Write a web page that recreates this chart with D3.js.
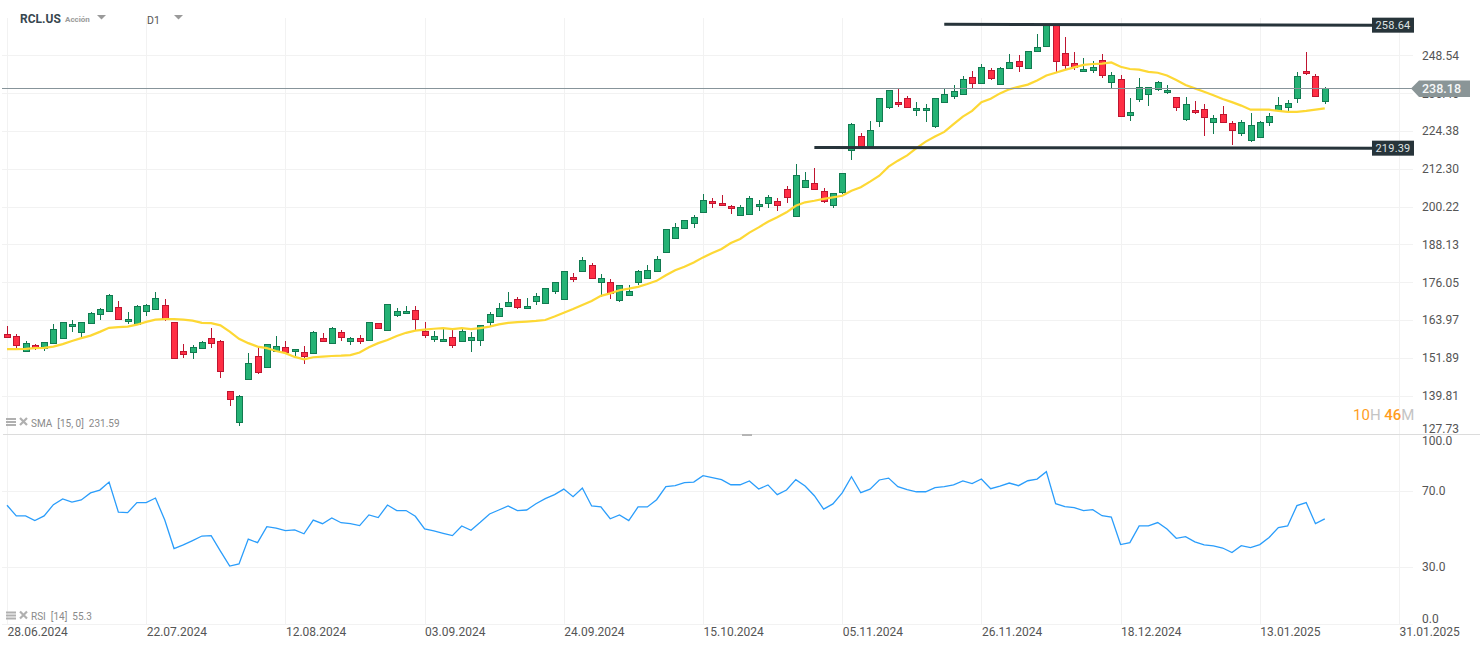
<!DOCTYPE html>
<html>
<head>
<meta charset="utf-8">
<title>RCL.US</title>
<script src="https://cdn.jsdelivr.net/npm/d3@7"></script>
<style>
html, body { margin: 0; padding: 0; background: #fff; }
svg { display: block; font-family: Roboto, sans-serif; }
.tick line { display: none; }
.domain { display: none; }
</style>
</head>
<body>
<div id="chart"></div>
<script>
var opens = [159.5,158.9,154.2,155.9,155.0,156.6,158.1,161.9,160.1,163.0,165.8,166.8,168.1,163.5,162.6,166.8,167.4,168.7,163.3,154.0,153.7,155.0,158.2,157.2,141.2,131.2,145.1,152.4,148.9,153.9,155.3,153.9,153.7,153.4,158.2,156.6,160.1,157.4,158.2,157.5,163.0,160.7,165.4,166.1,167.1,160.4,158.0,157.2,158.5,157.2,157.5,157.5,163.3,165.2,168.4,170.6,167.7,170.0,169.3,173.2,170.6,177.6,179.6,181.5,176.1,176.1,170.3,171.9,176.1,177.3,179.6,185.6,190.1,193.3,194.9,198.4,201.9,201.3,200.3,197.5,197.8,200.3,201.3,201.9,205.8,197.1,206.4,207.7,205.1,200.6,204.8,218.2,222.7,219.5,227.5,232.0,233.6,234.8,231.0,231.0,225.9,233.6,235.5,236.1,241.5,239.6,243.8,239.3,244.4,246.7,244.4,249.9,251.5,258.6,249.2,246.0,243.5,243.8,247.0,239.9,240.9,229.4,234.5,236.1,237.7,236.8,235.2,228.1,231.0,231.3,227.2,229.7,226.9,223.6,221.4,222.4,227.2,231.0,232.0,234.8,243.5,241.9,233.9];
var highs = [162.1,159.5,157.3,156.3,156.9,162.6,163.3,164.0,163.3,166.6,167.8,172.3,170.1,166.6,168.8,169.1,173.0,170.7,163.3,156.3,155.9,157.2,161.4,157.6,141.2,140.0,153.4,155.3,156.2,158.9,157.3,154.6,155.7,160.4,159.9,161.8,160.8,158.5,159.2,163.3,163.0,169.0,167.8,168.5,168.5,163.4,160.4,161.1,160.8,161.0,160.1,162.3,166.5,169.3,173.0,171.3,170.9,172.6,174.1,176.1,179.6,178.9,184.0,182.1,178.6,177.0,175.1,175.1,179.9,181.5,184.4,193.0,194.9,195.9,197.5,204.3,202.9,203.8,200.6,200.6,203.5,202.2,203.8,202.9,206.7,213.8,211.3,212.6,206.1,204.5,210.9,226.9,223.7,227.5,234.8,237.4,237.7,235.5,233.6,232.9,234.8,237.9,239.0,241.9,243.5,245.7,244.4,244.7,248.9,248.6,249.9,255.4,258.6,258.6,254.4,249.5,247.6,246.8,249.0,243.1,242.2,234.8,241.2,238.4,240.3,239.0,235.2,235.2,233.9,232.9,229.4,232.3,227.5,227.8,230.0,227.5,230.0,235.2,234.2,243.1,249.5,242.5,238.3];
var lows = [158.7,155.1,154.2,154.4,154.1,156.6,158.1,160.2,158.2,163.0,164.0,166.8,164.2,162.7,162.6,165.3,167.4,163.7,151.8,151.9,151.5,155.0,155.1,145.5,136.5,130.1,145.1,146.8,148.9,153.9,153.7,152.3,149.9,153.4,157.4,156.6,157.3,156.0,156.3,157.5,161.2,160.7,165.0,166.1,160.7,158.2,157.1,157.2,155.2,157.2,153.9,155.7,162.1,165.2,168.4,167.6,167.7,168.9,169.3,172.4,170.6,176.1,179.6,177.3,171.3,170.8,169.9,171.9,175.1,177.3,179.6,185.6,190.1,193.3,193.4,198.4,199.8,200.6,198.0,197.5,197.8,198.9,199.8,198.9,201.5,197.1,206.4,205.8,201.5,199.9,204.3,215.2,219.5,219.5,225.6,231.3,232.2,231.6,229.3,227.4,225.3,233.6,234.5,236.1,238.1,239.6,240.8,239.3,244.4,243.3,244.4,249.9,251.5,243.2,244.2,243.9,243.5,242.9,241.3,238.0,229.1,227.7,233.8,232.5,237.1,236.3,230.9,227.5,229.9,222.9,223.5,227.2,220.0,222.9,221.0,222.4,226.1,231.0,230.9,233.2,242.4,235.5,233.1];
var closes = [158.7,156.1,156.6,155.1,156.9,161.0,163.3,162.6,163.3,166.2,167.4,171.9,164.2,164.2,168.4,168.7,170.9,164.5,151.8,152.9,155.3,156.9,156.6,147.6,138.7,139.6,150.2,147.3,156.2,155.6,153.7,154.6,152.3,160.1,157.4,161.4,158.5,158.2,157.4,163.3,161.5,169.0,166.8,166.8,164.1,159.0,158.8,157.8,156.1,160.4,158.5,162.3,165.8,167.7,169.7,167.9,168.4,171.6,174.1,176.1,179.6,177.0,183.1,177.3,177.3,172.5,175.1,173.2,179.6,179.9,183.4,193.0,193.6,195.9,196.8,202.2,201.3,200.6,199.7,200.0,202.9,201.0,203.2,200.6,203.2,210.2,208.6,205.8,201.9,204.5,210.9,226.5,219.5,224.6,234.8,237.4,232.9,232.0,231.6,231.6,234.8,236.1,237.1,240.9,239.6,244.7,241.2,244.4,246.3,245.1,249.9,251.1,258.6,246.7,245.4,244.7,244.1,244.7,242.2,242.2,229.1,230.4,238.3,238.4,239.9,237.4,232.0,232.9,230.4,228.8,228.4,227.2,224.6,227.2,226.2,227.2,229.1,232.6,233.2,241.9,242.8,235.5,238.2];
var smaValues = [154.7,154.7,154.8,155.0,155.1,155.5,156.3,157.3,158.2,159.0,160.2,161.5,161.7,161.9,162.5,163.4,164.1,164.3,164.3,164.1,163.8,163.1,163.0,162.3,160.3,158.0,156.6,155.5,155.0,154.1,153.4,152.2,151.4,152.1,152.3,152.5,152.6,152.8,153.6,155.3,156.6,157.6,158.9,159.9,160.6,160.9,161.2,161.4,161.1,161.4,161.1,161.4,161.9,162.6,163.1,163.3,163.5,163.7,164.0,165.1,166.3,167.5,168.8,170.1,171.7,172.5,173.5,174.0,174.6,175.5,176.5,178.3,179.9,181.0,182.4,184.0,185.4,186.7,188.6,189.9,191.9,193.6,195.4,196.8,198.4,200.5,201.6,202.1,202.7,203.2,203.7,205.3,206.4,208.2,210.1,213.0,214.9,216.6,218.9,221.0,222.6,224.1,226.6,229.0,230.8,233.6,234.7,236.4,237.7,238.5,239.2,240.5,242.1,243.0,243.9,244.7,245.5,245.8,245.9,246.3,244.9,244.2,244.0,243.3,243.0,242.1,240.7,239.1,238.0,236.9,235.8,234.6,233.6,232.5,231.2,231.2,231.2,230.8,230.5,230.5,230.8,231.2,231.6];
var rsiValues = [62.5,56.9,56.9,54.4,56.9,62.8,65.8,64.2,65.3,69.0,70.5,74.7,58.9,58.6,63.9,63.9,66.3,54.7,39.7,41.6,43.9,46.3,46.5,38.4,30.5,31.6,44.7,42.8,51.2,50.5,49.1,49.5,47.5,54.7,52.8,55.8,53.3,52.8,51.8,57.4,56.0,62.6,59.7,59.7,56.7,50.0,49.0,47.7,46.5,51.6,49.3,53.5,57.9,60.0,62.1,59.7,60.0,63.3,66.0,68.1,71.0,67.0,71.6,62.1,61.6,55.4,57.4,54.4,61.6,61.6,65.4,72.3,72.8,74.4,74.7,78.1,77.0,76.0,73.3,73.3,75.3,71.0,73.2,68.1,70.5,76.0,72.6,67.5,60.5,63.2,69.0,77.5,69.1,71.0,75.8,76.8,72.3,70.7,69.6,69.6,71.8,72.3,73.2,75.3,73.9,76.3,71.2,72.6,74.2,72.8,75.4,76.3,80.2,63.3,61.8,61.2,59.7,60.2,57.0,56.3,41.8,42.8,51.6,51.6,53.4,50.0,45.1,46.0,43.2,41.6,41.1,40.0,37.6,41.2,40.2,41.8,45.5,50.7,51.6,62.3,63.9,52.8,55.3];

var priceTicks = [248.54,236.46,224.38,212.30,200.22,188.13,176.05,163.97,151.89,139.81,127.73];
var rsiTicks = [100,70,30,0];
var dateTicks = ["28.06.2024","22.07.2024","12.08.2024","03.09.2024","24.09.2024","15.10.2024","05.11.2024","26.11.2024","18.12.2024","13.01.2025","31.01.2025"];
var barsPerDateTick = 15;

var lastPrice = 238.18;
var levelLabels = ["258.64","219.39"];
var levelFromBar = [101,87];
var levelFrom = [258.5,219.1];
var levelTo = [258.2,218.9];

var width = 1482, height = 649;
var gridRight = 1413, axisX = 1422;
var green = "#25b275", greenDark = "#117a50", red = "#ff2e44", redDark = "#bf1530";

var svg = d3.select("#chart").append("svg")
	.attr("width", width)
	.attr("height", height);

var x = d3.scaleLinear().domain([0, 150]).range([7, 1399]);
var y = d3.scaleLinear().domain([248.54, 127.73]).range([55.4, 433.5]);
var yRsi = d3.scaleLinear().domain([100, 0]).range([434, 624]);

var px = function(v) { return Math.round(v) + 0.5; };

// grid
var grid = svg.append("g").attr("stroke", "#f2f2f2").attr("stroke-width", 1);
var dateBars = dateTicks.map(function(d, i) { return i * barsPerDateTick; });

grid.selectAll(".vgrid").data(dateBars).enter().append("line")
	.attr("class", "vgrid")
	.attr("x1", function(d) { return px(x(d)); })
	.attr("x2", function(d) { return px(x(d)); })
	.attr("y1", 18)
	.attr("y2", 624);

grid.selectAll(".hgrid").data(priceTicks.slice(0, -1)).enter().append("line")
	.attr("class", "hgrid")
	.attr("x1", 2)
	.attr("x2", gridRight)
	.attr("y1", function(d) { return px(y(d)); })
	.attr("y2", function(d) { return px(y(d)); });

grid.selectAll(".rgrid").data(rsiTicks.slice(1)).enter().append("line")
	.attr("class", "rgrid")
	.attr("x1", 2)
	.attr("x2", gridRight)
	.attr("y1", function(d) { return px(yRsi(d)); })
	.attr("y2", function(d) { return px(yRsi(d)); });

// pane separator
svg.append("line")
	.attr("x1", 3).attr("x2", 1480)
	.attr("y1", 434.5).attr("y2", 434.5)
	.attr("stroke", "#dcdcdc");
svg.append("rect")
	.attr("x", 742).attr("y", 434)
	.attr("width", 10).attr("height", 2)
	.attr("fill", "#b5b5b5");

// candles
var candles = svg.append("g").selectAll(".candle").data(opens).enter().append("g")
	.attr("class", "candle")
	.attr("shape-rendering", "crispEdges");

var isUp = function(i) { return closes[i] >= opens[i]; };

candles.append("line")
	.attr("x1", function(d, i) { return px(x(i)); })
	.attr("x2", function(d, i) { return px(x(i)); })
	.attr("y1", function(d, i) { return y(highs[i]); })
	.attr("y2", function(d, i) { return y(lows[i]); })
	.attr("stroke", function(d, i) { return isUp(i) ? greenDark : redDark; });

candles.append("rect")
	.attr("x", function(d, i) { return px(x(i)) - 3; })
	.attr("width", 6)
	.attr("y", function(d, i) { return px(y(Math.max(opens[i], closes[i]))); })
	.attr("height", function(d, i) { return Math.max(1, Math.round(y(Math.min(opens[i], closes[i])) - y(Math.max(opens[i], closes[i])))); })
	.attr("fill", function(d, i) { return isUp(i) ? green : red; })
	.attr("stroke", function(d, i) { return isUp(i) ? greenDark : redDark; });

// SMA
var smaLine = d3.line()
	.x(function(d, i) { return x(i); })
	.y(function(d) { return y(d); });

svg.append("path")
	.attr("d", smaLine(smaValues))
	.attr("fill", "none")
	.attr("stroke", "#fdd835")
	.attr("stroke-width", 2.2);

// last price line
svg.append("line")
	.attr("x1", 2).attr("x2", 1412)
	.attr("y1", px(y(lastPrice))).attr("y2", px(y(lastPrice)))
	.attr("stroke", "#87949a");

// levels
svg.selectAll(".level").data(levelLabels).enter().append("line")
	.attr("class", "level")
	.attr("x1", function(d, i) { return x(levelFromBar[i]); })
	.attr("x2", 1373)
	.attr("y1", function(d, i) { return y(levelFrom[i]); })
	.attr("y2", function(d, i) { return y(levelTo[i]); })
	.attr("stroke", "#27343a")
	.attr("stroke-width", 3);

// RSI
var rsiLine = d3.line()
	.x(function(d, i) { return x(i); })
	.y(function(d) { return yRsi(d); });

svg.append("path")
	.attr("d", rsiLine(rsiValues))
	.attr("fill", "none")
	.attr("stroke", "#2a9dfb")
	.attr("stroke-width", 1.3);

// axes
var priceAxis = svg.append("g")
	.attr("transform", "translate(" + axisX + ",0)")
	.call(d3.axisRight(y).tickValues(priceTicks).tickSize(0).tickPadding(0).tickFormat(d3.format(".2f")));

priceAxis.selectAll("text")
	.attr("font-size", 12)
	.attr("font-family", "Roboto, sans-serif")
	.attr("fill", "#555")
	.attr("dy", "0.32em")
	.attr("y", function(d) { return d === 127.73 ? -4.5 : 0; });

var rsiAxis = svg.append("g")
	.attr("transform", "translate(" + axisX + ",0)")
	.call(d3.axisRight(yRsi).tickValues(rsiTicks).tickSize(0).tickPadding(0).tickFormat(d3.format(".1f")));

rsiAxis.selectAll("text")
	.attr("font-size", 12)
	.attr("font-family", "Roboto, sans-serif")
	.attr("fill", "#555")
	.attr("dy", "0.32em")
	.attr("y", function(d) { return d === 100 ? 6.5 : (d === 0 ? -5.5 : 0); });

var dateAxis = svg.append("g")
	.attr("transform", "translate(0,627)")
	.call(d3.axisBottom(x).tickValues(dateBars).tickSize(0).tickPadding(0).tickFormat(function(d, i) { return dateTicks[i]; }));

dateAxis.selectAll("text")
	.attr("font-size", 12)
	.attr("font-family", "Roboto, sans-serif")
	.attr("fill", "#555")
	.attr("text-anchor", "start")
	.attr("dy", "0.71em");

// last price tag
var tagY = px(y(lastPrice));
svg.append("path")
	.attr("d", d3.line()([[1411, tagY], [1419, tagY - 8], [1470, tagY - 8], [1470, tagY + 8.5], [1419, tagY + 8.5]]) + "Z")
	.attr("fill", "#8a9597");
svg.append("text")
	.attr("x", axisX)
	.attr("y", tagY + 4.5)
	.attr("font-size", 12.5)
	.attr("font-weight", 500)
	.attr("fill", "#f5f7f7")
	.text(lastPrice.toFixed(2));

// level tags
var levelTags = svg.selectAll(".levelTag").data(levelLabels).enter().append("g")
	.attr("class", "levelTag")
	.attr("transform", function(d, i) { return "translate(0," + y(levelTo[i]) + ")"; });

levelTags.append("rect")
	.attr("x", 1372).attr("y", -7.5)
	.attr("width", 42).attr("height", 15)
	.attr("fill", "#27343a");

levelTags.append("text")
	.attr("x", 1393).attr("y", 4)
	.attr("text-anchor", "middle")
	.attr("font-size", 11)
	.attr("letter-spacing", "0.2")
	.attr("fill", "#dfe3e4")
	.text(function(d) { return d; });

// header
svg.append("text").attr("x", 20).attr("y", 23)
	.attr("font-size", 12).attr("font-weight", 700).attr("fill", "#37474f").text("RCL.US");
svg.append("text").attr("x", 65).attr("y", 22)
	.attr("font-size", 8).attr("font-weight", 700).attr("fill", "#9a9a9a").text("Acción");
svg.append("text").attr("x", 147).attr("y", 24)
	.attr("font-size", 10.5).attr("fill", "#555").text("D1");

svg.selectAll(".arrow").data([97, 174]).enter().append("path")
	.attr("class", "arrow")
	.attr("d", function(d) { return "M" + d + " 15h9l-4.5 4.5Z"; })
	.attr("fill", "#9a9a9a");

// indicator legends
var legends = svg.selectAll(".legend").data(["SMA  [15, 0]  231.59", "RSI  [14]  55.3"]).enter().append("g")
	.attr("class", "legend")
	.attr("transform", function(d, i) { return "translate(0," + (i === 0 ? 426 : 619.5) + ")"; });

legends.append("path")
	.attr("d", "M6 -8h10v2h-10ZM6 -5h10v2h-10ZM6 -2h10v2h-10Z")
	.attr("fill", "#b0b0b0");
legends.append("path")
	.attr("d", "M20 -8L27 -1M27 -8L20 -1")
	.attr("stroke", "#b0b0b0")
	.attr("stroke-width", 2.2);
legends.append("text")
	.attr("x", 31).attr("y", 0.5)
	.attr("font-size", 10)
	.attr("fill", "#8a8a8a")
	.style("white-space", "pre")
	.text(function(d) { return d; });

// countdown
var countdown = svg.append("text")
	.attr("x", 1353).attr("y", 419.5)
	.attr("font-size", 15);
countdown.append("tspan").attr("fill", "#ff9d1e").text("10");
countdown.append("tspan").attr("fill", "#c4c4c4").text("H ");
countdown.append("tspan").attr("fill", "#ff9d1e").attr("font-weight", 500).text("46");
countdown.append("tspan").attr("fill", "#c4c4c4").text("M");
</script>
</body>
</html>
